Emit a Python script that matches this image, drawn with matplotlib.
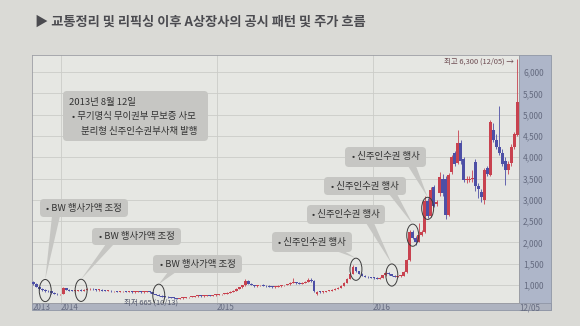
import pandas as pd
import matplotlib.pyplot as plt
import matplotlib.dates as mdates
from matplotlib.patches import Ellipse, FancyBboxPatch, Polygon, Rectangle
from matplotlib.transforms import Affine2D

plt.rcParams["font.family"] = ["Noto Sans CJK KR", "DejaVu Sans"]

W, H = 580, 326

# weekly candles
start_date = "2013-10-28"
opens = [
    1080, 1020, 960, 900, 880, 860, 850, 810, 790, 780,
    790, 930, 890, 870, 860, 870, 880, 870, 890, 900,
    910, 900, 880, 890, 870, 860, 870, 850, 860, 840,
    850, 860, 840, 850, 830, 840, 850, 830, 840, 860,
    830, 790, 770, 750, 730, 720, 710, 700, 690, 680,
    690, 700, 710, 720, 730, 740, 750, 740, 750, 760,
    750, 760, 770, 780, 790, 800, 820, 840, 870, 910,
    950, 990, 1100, 1030, 1000, 970, 990, 1000, 980, 970,
    960, 950, 960, 980, 990, 1000, 1020, 1050, 1060, 1040,
    1030, 1050, 1080, 1120, 1100, 800, 840, 830, 840, 860,
    870, 890, 910, 940, 980, 1050, 1150, 1260, 1420, 1320,
    1270, 1220, 1200, 1180, 1170, 1160, 1150, 1170, 1230, 1290,
    1250, 1220, 1200, 1210, 1220, 1300, 1580, 2240, 2100, 2020,
    2180, 2250, 2980, 2620, 3300, 2900, 3150, 3500, 3500, 2640,
    3650, 4100, 3860, 4330, 3950, 3460, 3470, 3480, 3880, 3330,
    3180, 3000, 3750, 3580, 4640, 4400, 4250, 4100, 3900, 3700,
    3870, 4250, 4520,
]
highs = [
    1100, 1040, 980, 920, 900, 880, 860, 830, 810, 800,
    950, 940, 900, 890, 880, 890, 900, 900, 920, 920,
    930, 910, 900, 900, 890, 880, 880, 870, 870, 860,
    870, 870, 860, 860, 850, 860, 860, 850, 870, 870,
    840, 800, 790, 760, 750, 740, 720, 710, 700, 690,
    710, 720, 730, 740, 750, 760, 760, 760, 770, 770,
    770, 780, 790, 800, 810, 830, 850, 880, 920, 960,
    1000, 1130, 1110, 1050, 1010, 1000, 1010, 1020, 1000, 990,
    980, 970, 990, 1000, 1010, 1030, 1060, 1160, 1080, 1060,
    1060, 1090, 1170, 1160, 1110, 860, 860, 850, 870, 880,
    900, 920, 950, 990, 1060, 1160, 1280, 1470, 1430, 1340,
    1290, 1240, 1220, 1200, 1190, 1180, 1180, 1240, 1350, 1300,
    1270, 1240, 1220, 1240, 1320, 1620, 2280, 2300, 2140, 2460,
    2300, 3080, 3050, 3300, 3350, 3000, 3650, 3600, 3560, 3620,
    4050, 4150, 4650, 4400, 4000, 3560, 3550, 3700, 3970, 3400,
    3250, 3750, 3800, 4870, 4800, 4550, 5200, 4200, 4000, 3900,
    4300, 4600, 6300,
]
lows = [
    1000, 950, 880, 860, 840, 830, 800, 780, 770, 770,
    780, 880, 860, 850, 840, 850, 860, 860, 880, 880,
    890, 870, 870, 860, 850, 850, 840, 840, 830, 830,
    840, 830, 830, 820, 820, 830, 820, 820, 830, 820,
    780, 760, 740, 720, 710, 700, 690, 680, 670, 670,
    665, 690, 700, 710, 720, 730, 730, 730, 740, 740,
    740, 750, 760, 770, 780, 790, 810, 830, 860, 900,
    940, 980, 1020, 990, 960, 960, 970, 970, 960, 950,
    940, 940, 950, 960, 970, 990, 1010, 1040, 1030, 1020,
    1020, 1040, 1060, 1080, 840, 760, 820, 810, 830, 850,
    860, 880, 900, 930, 970, 1040, 1140, 1250, 1300, 1250,
    1210, 1180, 1170, 1160, 1140, 1140, 1140, 1160, 1220, 1230,
    1210, 1190, 1180, 1190, 1210, 1290, 1570, 2080, 1950, 2000,
    2150, 2230, 2580, 2600, 2820, 2850, 3100, 3100, 2550, 2620,
    3600, 3800, 3840, 3850, 3420, 3400, 3430, 3420, 3200, 3050,
    2950, 2900, 3550, 3560, 4350, 4200, 4050, 3800, 3350, 3600,
    3800, 4200, 4500,
]
closes = [
    1020, 960, 900, 880, 860, 850, 810, 790, 780, 790,
    930, 890, 870, 860, 870, 880, 870, 890, 900, 910,
    900, 880, 890, 870, 860, 870, 850, 860, 840, 850,
    860, 840, 850, 830, 840, 850, 830, 840, 860, 830,
    790, 770, 750, 730, 720, 710, 700, 690, 680, 690,
    700, 710, 720, 730, 740, 750, 740, 750, 760, 750,
    760, 770, 780, 790, 800, 820, 840, 870, 910, 950,
    990, 1100, 1030, 1000, 970, 990, 1000, 980, 970, 960,
    950, 960, 980, 990, 1000, 1020, 1050, 1060, 1040, 1030,
    1050, 1080, 1120, 1100, 860, 840, 830, 840, 860, 870,
    890, 910, 940, 980, 1050, 1150, 1260, 1420, 1320, 1270,
    1220, 1200, 1180, 1170, 1160, 1150, 1170, 1230, 1290, 1250,
    1220, 1200, 1210, 1220, 1300, 1580, 2240, 2100, 2000, 2180,
    2250, 2980, 2620, 3230, 2850, 2950, 3530, 3150, 2640, 3580,
    4000, 3850, 4330, 3900, 3460, 3480, 3500, 3520, 3330, 3250,
    3070, 3700, 3600, 4830, 4400, 4250, 4100, 3850, 3700, 3850,
    4250, 4550, 5300,
]

year_starts = ["2014-01-01", "2015-01-01", "2016-01-01"]
x_labels = ["2013", "2014", "2015", "2016", "12/05"]
y_ticks = [1000, 1500, 2000, 2500, 3000, 3500, 4000, 4500, 5000, 5500, 6000]

title = "▶ 교통정리 및 리픽싱 이후 A상장사의 공시 패턴 및 주가 흐름"
big_note = ["2013년 8월 12일", "• 무기명식 무이권부 무보증 사모", "분리형 신주인수권부사채 발행"]
bw_note = "• BW 행사가액 조정"
wr_note = "• 신주인수권 행사"
high_note = "최고 6,300 (12/05) →"
low_note = "최저 665 (10/13)"

# candle index each circled event points at
bw_events = [4, 16, 42]
wr_events = [108, 120, 127, 132]

RED = "#c8424f"
BLUE = "#4d4fa6"
BOX = "#c6c6c3"

fig = plt.figure(figsize=(W / 100, H / 100), dpi=100)
fig.patch.set_facecolor("#dadad6")
# pixel coords, origin top-left
pix = Affine2D().scale(1 / 100, -1 / 100).translate(0, H / 100) + fig.dpi_scale_trans

ax = fig.add_axes([32 / W, 1 - 303 / H, 487 / W, 248 / H])
ax.set_facecolor("#e6e7e3")

dates = pd.date_range(start_date, periods=len(closes), freq="7D")
xs = mdates.date2num(dates)
colors = [RED if c >= o else BLUE for o, c in zip(opens, closes)]
bottoms = [min(o, c) for o, c in zip(opens, closes)]
heights = [max(abs(c - o), 18) for o, c in zip(opens, closes)]

ax.vlines(xs, lows, highs, colors=colors, lw=0.6, zorder=3)
ax.bar(xs, heights, bottom=bottoms, width=6.4, color=colors, lw=0, zorder=4)

ax.set_xlim(xs[0] - 3, xs[-1] + 2.5)
ax.set_ylim(578, 6400)

# grid
ax.set_yticks(y_ticks)
ax.set_yticklabels([f"{v:,}" for v in y_ticks])
ax.grid(axis="y", color="#cbccc8", lw=0.6)
for d in year_starts:
    ax.axvline(mdates.date2num(pd.Timestamp(d)), color="#cbccc8", lw=0.6, zorder=0)
ax.set_axisbelow(True)

ax.yaxis.tick_right()
ax.tick_params(axis="y", length=0, pad=3, labelsize=6, labelcolor="#656b80")
xpos = [ax.get_xlim()[0] + 1] + [mdates.date2num(pd.Timestamp(d)) for d in year_starts] + [xs[-1] + 4]
ax.set_xticks(xpos)
ax.set_xticklabels(x_labels)
for lbl in ax.get_xticklabels():
    lbl.set_horizontalalignment("left")
ax.tick_params(axis="x", length=0, pad=0.3, labelsize=5.8, labelcolor="#656b80")
for s in ax.spines.values():
    s.set_color("#9c9ea4")
    s.set_linewidth(0.6)

# right and bottom bands, behind the axes
fig.patches.append(Rectangle((519, 55), 32, 255, transform=pix, fc="#aeb6c9", ec="#8f96a6", lw=0.6, zorder=-2))
fig.patches.append(Rectangle((32, 303), 519, 7, transform=pix, fc="#aeb3c0", ec="#8f96a6", lw=0.6, zorder=-1))

fig.text(35, 22, title, transform=pix, fontsize=9.5, fontweight="bold", color="#4b4b50", va="center")

# circles on the events
ell_w, ell_h = 28, 520
circles = {}
for i in bw_events + wr_events:
    cy = (opens[i] + closes[i]) / 2
    ax.add_patch(Ellipse((xs[i], cy), ell_w, ell_h, fill=False, ec="#3c3c3c", lw=0.7, zorder=6))
    circles[i] = (xs[i], cy + ell_h / 2)


def to_pix(xy):
    return pix.inverted().transform(ax.transData.transform(xy))


def bubble(x0, y0, x1, y1, tail_x, event):
    tip = to_pix(circles[event])
    fig.patches.append(Polygon([(tail_x - 4, y1 - 1), (tail_x + 4, y1 - 1), tip], closed=True,
                               transform=pix, fc=BOX, ec="none", zorder=7))
    fig.patches.append(FancyBboxPatch((x0, y0), x1 - x0, y1 - y0, boxstyle="round,pad=0,rounding_size=4",
                                      transform=pix, fc=BOX, ec="none", zorder=7))


fig.patches.append(FancyBboxPatch((63, 91), 145, 50, boxstyle="round,pad=0,rounding_size=4",
                                  transform=pix, fc=BOX, ec="none", zorder=7))
fig.text(69, 103, big_note[0], transform=pix, fontsize=6.8, color="#333333", va="center", zorder=8)
fig.text(72, 117, big_note[1], transform=pix, fontsize=6.8, color="#333333", va="center", zorder=8)
fig.text(81, 131, big_note[2], transform=pix, fontsize=6.8, color="#333333", va="center", zorder=8)

bw_boxes = [(40, 199, 128, 217, 56), (92, 228, 181, 245, 110), (153, 255, 242, 273, 172)]
for (x0, y0, x1, y1, tx), ev in zip(bw_boxes, bw_events):
    bubble(x0, y0, x1, y1, tx, ev)
    fig.text((x0 + x1) / 2, (y0 + y1) / 2, bw_note, transform=pix, fontsize=6.8, color="#333333",
             ha="center", va="center", zorder=8)

wr_boxes = [(272, 232, 352, 252, 340), (307, 205, 385, 224, 370), (324, 177, 406, 195, 393), (345, 147, 426, 167, 412)]
for (x0, y0, x1, y1, tx), ev in zip(wr_boxes, wr_events):
    bubble(x0, y0, x1, y1, tx, ev)
    fig.text((x0 + x1) / 2, (y0 + y1) / 2, wr_note, transform=pix, fontsize=6.8, color="#333333",
             ha="center", va="center", zorder=8)

# high / low labels
i_hi = highs.index(max(highs))
i_lo = lows.index(min(lows))
ax.annotate(high_note, (xs[i_hi], highs[i_hi]), xytext=(-3, -2), textcoords="offset pixels",
            fontsize=5.4, color="#6d4c52", ha="right", va="center", annotation_clip=False)
ax.annotate(low_note, (xs[i_lo], lows[i_lo]), xytext=(-5, -3), textcoords="offset pixels",
            fontsize=5.4, color="#555a6e", ha="right", va="center", annotation_clip=False)

fig.savefig("out.png", dpi=100, facecolor=fig.get_facecolor())
